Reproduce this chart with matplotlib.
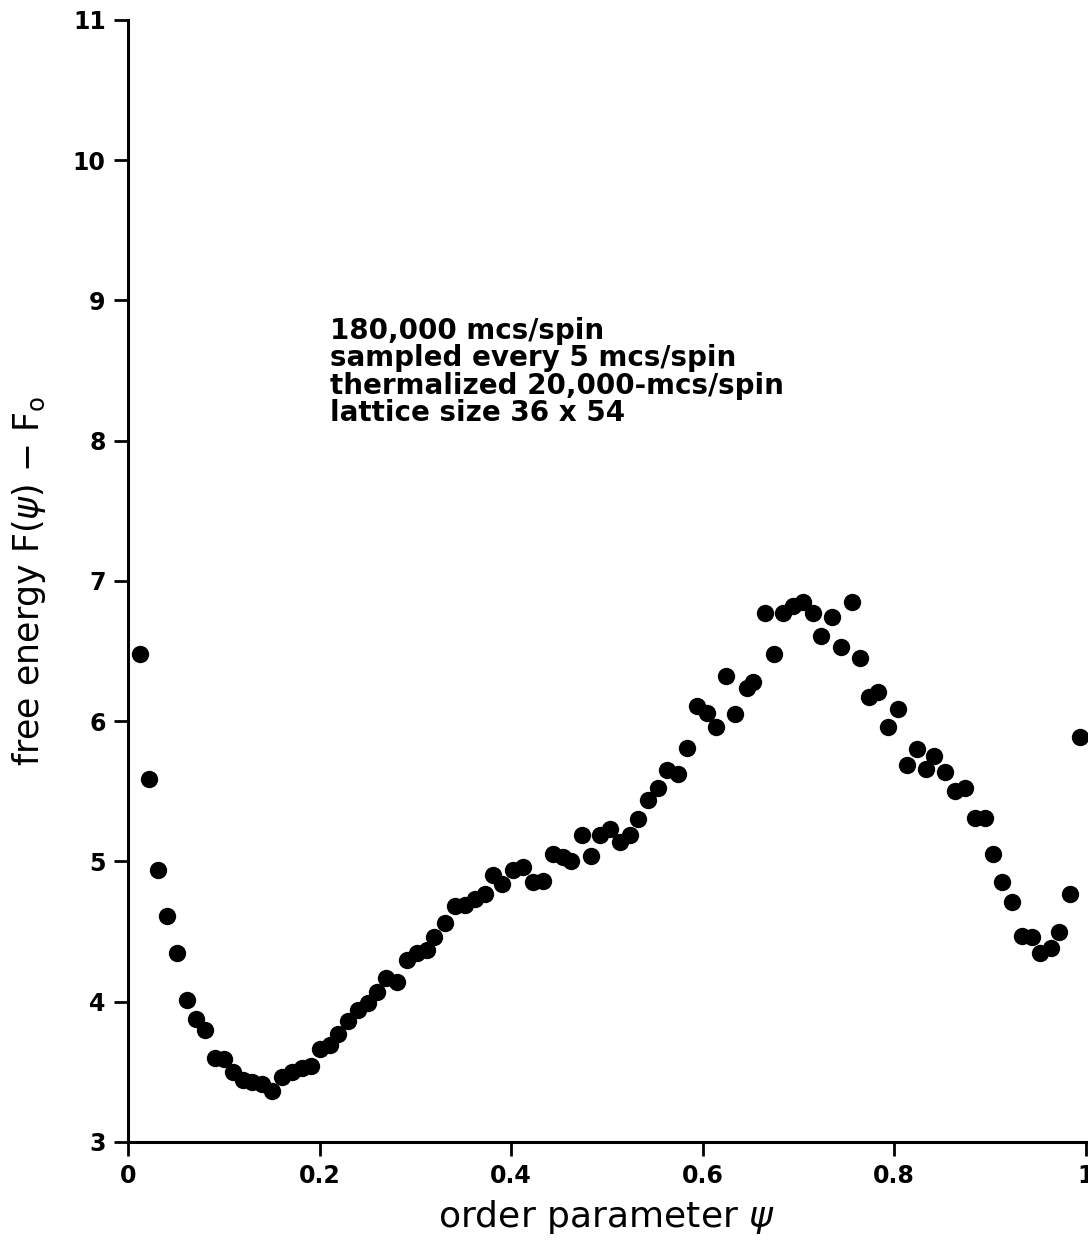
import matplotlib
matplotlib.use("Agg")
import matplotlib.pyplot as plt

# order parameter psi
psi = [0.013, 0.022, 0.031, 0.041, 0.051, 0.062, 0.071, 0.080, 0.091, 0.100,
       0.110, 0.120, 0.129, 0.140, 0.150, 0.161, 0.171, 0.182, 0.191, 0.200,
       0.211, 0.219, 0.230, 0.240, 0.251, 0.260, 0.269, 0.281, 0.291, 0.302,
       0.312, 0.320, 0.331, 0.341, 0.352, 0.362, 0.373, 0.381, 0.391, 0.402,
       0.412, 0.423, 0.433, 0.444, 0.454, 0.463, 0.474, 0.483, 0.493, 0.503,
       0.514, 0.524, 0.532, 0.543, 0.553, 0.563, 0.574, 0.584, 0.594, 0.604,
       0.614, 0.624, 0.634, 0.646, 0.653, 0.665, 0.674, 0.684, 0.694, 0.705,
       0.715, 0.724, 0.735, 0.744, 0.756, 0.764, 0.774, 0.783, 0.793, 0.804,
       0.813, 0.824, 0.833, 0.842, 0.853, 0.863, 0.874, 0.884, 0.895, 0.903,
       0.912, 0.923, 0.933, 0.944, 0.952, 0.964, 0.972, 0.983, 0.994]

# free energy F(psi) - F0
free_energy = [6.48, 5.59, 4.94, 4.61, 4.35, 4.01, 3.88, 3.80, 3.60, 3.59,
               3.50, 3.44, 3.43, 3.41, 3.36, 3.46, 3.50, 3.53, 3.54, 3.66,
               3.69, 3.77, 3.86, 3.94, 3.99, 4.07, 4.17, 4.14, 4.30, 4.35,
               4.37, 4.46, 4.56, 4.68, 4.69, 4.73, 4.77, 4.90, 4.84, 4.94,
               4.96, 4.85, 4.86, 5.05, 5.03, 5.00, 5.19, 5.04, 5.19, 5.23,
               5.14, 5.19, 5.30, 5.44, 5.52, 5.65, 5.62, 5.81, 6.11, 6.06,
               5.96, 6.32, 6.05, 6.24, 6.28, 6.77, 6.48, 6.77, 6.82, 6.85,
               6.77, 6.61, 6.74, 6.53, 6.85, 6.45, 6.17, 6.21, 5.96, 6.09,
               5.69, 5.80, 5.66, 5.75, 5.64, 5.50, 5.52, 5.31, 5.31, 5.05,
               4.85, 4.71, 4.47, 4.46, 4.35, 4.38, 4.50, 4.77, 5.89]

x_ticks = [0, 0.2, 0.4, 0.6, 0.8, 1]
x_tick_labels = ["0", "0.2", "0.4", "0.6", "0.8", "1"]
y_ticks = [3, 4, 5, 6, 7, 8, 9, 10, 11]
y_tick_labels = ["3", "4", "5", "6", "7", "8", "9", "10", "11"]

annotation_lines = ["180,000 mcs/spin",
                    "sampled every 5 mcs/spin",
                    "thermalized 20,000-mcs/spin",
                    "lattice size 36 x 54"]

plt.rcParams['font.family'] = ['DejaVu Sans']
plt.rcParams['mathtext.fontset'] = 'dejavusans'

fig = plt.figure(figsize=(10.88, 12.43), dpi=100)
ax = fig.add_axes([0.1176, 0.0813, 0.8804, 0.9027])

ax.plot(psi, free_energy, 'o', color='black', markersize=12.5,
        markeredgewidth=0, clip_on=False)

ax.set_xlim(0, 1)
ax.set_ylim(3, 11)
ax.set_xticks(x_ticks)
ax.set_xticklabels(x_tick_labels, fontsize=17, fontweight='bold')
ax.set_yticks(y_ticks)
ax.set_yticklabels(y_tick_labels, fontsize=17, fontweight='bold')

for s in ['top', 'right']:
    ax.spines[s].set_visible(False)
for s in ['left', 'bottom']:
    ax.spines[s].set_linewidth(2.2)
ax.tick_params(direction='out', length=10, width=2, pad=6)

ax.set_xlabel("order parameter $\\mathit{\\psi}$", fontsize=26,
              labelpad=7)
ax.set_ylabel("free energy F($\\mathit{\\psi}$) $-$ F$_{\\mathrm{o}}$",
              fontsize=25, labelpad=18)

ax.text(0.211, 8.885, "\n".join(annotation_lines), fontsize=20,
        fontweight='bold', va='top', ha='left', linespacing=0.98)

fig.savefig("out.png", dpi=100, facecolor='white')
